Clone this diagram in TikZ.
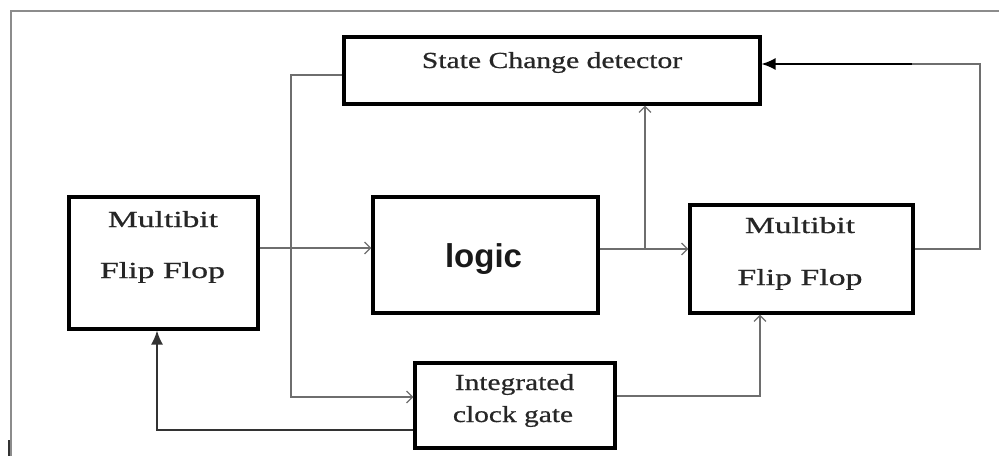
\documentclass[tikz,border=0pt]{standalone}
\usepackage{fontspec}
\setmainfont[FakeBold=0.6]{Liberation Serif}
\newfontfamily\logicfont{Liberation Sans}
\usetikzlibrary{arrows.meta}
\newcommand{\hst}[2]{\scalebox{#1}[1]{#2}}
\definecolor{conngray}{RGB}{110,110,110}
\definecolor{framegray}{RGB}{140,140,140}
\tikzset{
  blk/.style={draw=black, line width=3.2pt, fill=none, inner sep=0pt},
  conn/.style={draw=conngray, line width=1.4pt},
  openhead/.style={-{Straight Barb[length=6pt,width=12pt,line width=1.2pt]}},
  fillhead/.style={-{Latex[length=14pt,width=12pt]}},
  txt/.style={font=\fontsize{23}{26}\selectfont, inner sep=0pt, anchor=base, text=black!85},
  lg/.style={font=\fontsize{33}{36}\logicfont\bfseries, inner sep=0pt, anchor=base, text=black!90}
}
\begin{document}
\begin{tikzpicture}[x=1pt,y=-1pt]
\useasboundingbox (0,0) rectangle (999,456);
% frame
\draw[draw=framegray, line width=2.2pt] (11,456) -- (11,11) -- (999,11);
\draw[draw=black!80, line width=2pt] (9,440) -- (9,456);
% boxes
\node[blk, minimum width=416pt, minimum height=67pt] (scd) at (552,70.5) {};
\node[blk, minimum width=189pt, minimum height=132pt] (lff) at (163.5,263) {};
\node[blk, minimum width=225pt, minimum height=116pt] (logic) at (485.5,255) {};
\node[blk, minimum width=223pt, minimum height=108pt] (rff) at (801.5,259) {};
\node[blk, minimum width=200pt, minimum height=85pt] (icg) at (515,405.5) {};
% texts
\node[txt] (t1) at (552,68) {\hst{1.29}{State Change detector}};
\node[txt] (t2) at (163,227) {\hst{1.46}{Multibit}};
\node[txt] (t3) at (162.5,278) {\hst{1.47}{Flip Flop}};
\node[txt] (t4) at (800,233) {\hst{1.46}{Multibit}};
\node[txt] (t5) at (800,285) {\hst{1.47}{Flip Flop}};
\node[txt] (t6) at (514.5,390) {\hst{1.28}{Integrated}};
\node[txt] (t7) at (513,422) {\hst{1.28}{clock gate}};
\node[lg] (t8) at (483.5,267) {logic};
% coordinates
\coordinate (a1) at (291,75);
\coordinate (a2) at (291,397);
\coordinate (b1) at (0,248);
\coordinate (c1) at (0,249);
\coordinate (br) at (645,249);
\coordinate (d1) at (980,249);
\coordinate (d2) at (980,64);
\coordinate (d3) at (912,64);
\coordinate (e1) at (0,396);
\coordinate (e2) at (760,396);
\coordinate (f1) at (0,430);
\coordinate (f2) at (157,430);
% connectors
\draw[conn, openhead] (scd.west |- a1) -- (a1) -- (a2) -- (icg.west |- a2);
\draw[conn, openhead] (lff.east |- b1) -- (logic.west |- b1);
\draw[conn, openhead] (logic.east |- c1) -- (rff.west |- c1);
\draw[conn, openhead] (br) -- (br |- scd.south);
\draw[conn] (rff.east |- d1) -- (d1) -- (d2) -- (d3);
\draw[draw=black, line width=1.5pt, fillhead] (d3) -- (scd.east |- d3);
\draw[conn, openhead] (icg.east |- e1) -- (e2) -- (e2 |- rff.south);
\draw[draw=black!80, line width=1.6pt, fillhead] (icg.west |- f1) -- (f2) -- (f2 |- lff.south);
\end{tikzpicture}
\end{document}
